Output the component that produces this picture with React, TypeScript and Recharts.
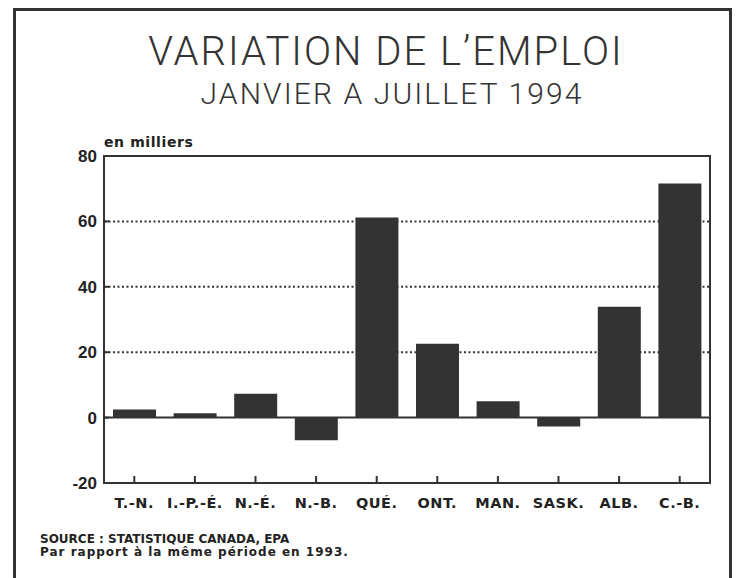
import React from "react";
import { BarChart, Bar, XAxis, YAxis, ReferenceLine, ReferenceArea } from "recharts";

const provinces = ["T.-N.", "I.-P.-É.", "N.-É.", "N.-B.", "QUÉ.", "ONT.", "MAN.", "SASK.", "ALB.", "C.-B."];
const variation = [2.5, 1.3, 7.3, -6.9, 61.2, 22.6, 5.0, -2.7, 33.9, 71.6];
const yTicks = [-20, 0, 20, 40, 60, 80];
const gridValues = [20, 40, 60];

const title = "VARIATION DE L’EMPLOI";
const subtitle = "JANVIER A JUILLET 1994";
const unitLabel = "en milliers";
const source = "SOURCE : STATISTIQUE CANADA, EPA";
const note = "Par rapport à la même période en 1993.";

const data = provinces.map((p, i) => ({ name: p, value: variation[i] }));

const INK = "#333333";
const BOLD = "DejaVu Sans, Liberation Sans, sans-serif";

const XTick = (props: any) => {
  const { x, y, payload } = props;
  const axisY = y - 14;
  return (
    <g>
      <line x1={x} x2={x} y1={axisY} y2={axisY - 7} stroke={INK} strokeWidth={2} />
      <text x={x} y={y} dy={11} textAnchor="middle" fill="#222" fontSize={14.5} fontWeight={700} fontFamily={BOLD} letterSpacing={0.5}>
        {payload.value}
      </text>
    </g>
  );
};

const YTick = (props: any) => {
  const { x, y, payload } = props;
  const axisX = x + 7;
  return (
    <g>
      {payload.value !== 80 && payload.value !== -20 && (
        <line x1={axisX} x2={axisX + 5} y1={y} y2={y} stroke={INK} strokeWidth={2} />
      )}
      <text x={x} y={y} dy={6} textAnchor="end" fill="#222" fontSize={17} fontWeight={700} fontFamily="Liberation Sans, Arial, sans-serif">
        {payload.value}
      </text>
    </g>
  );
};

export default function App() {
  return (
    <div style={{ position: "absolute", left: 0, top: 0, width: 737, height: 578, background: "#fff", overflow: "hidden" }}>
      <div style={{ position: "absolute", left: 13, top: 8, width: 719, height: 600, border: `3px solid ${INK}`, boxSizing: "border-box" }} />
      <div style={{ position: "absolute", left: 0, top: 0 }}>
        <BarChart width={737} height={578} data={data} margin={{ top: 156, right: 27, bottom: 65, left: 54 }} barSize={43}>
          <XAxis
            dataKey="name"
            axisLine={{ stroke: INK, strokeWidth: 2 }}
            tickLine={false}
            tickSize={0}
            tickMargin={14}
            height={30}
            interval={0}
            tick={<XTick />}
          />
          <YAxis
            domain={[-20, 80]}
            ticks={yTicks}
            width={50}
            axisLine={{ stroke: INK, strokeWidth: 2 }}
            tickLine={false}
            tickSize={0}
            tickMargin={7}
            tick={<YTick />}
          />
          {gridValues.map((v) => (
            <ReferenceLine key={v} y={v} stroke={INK} strokeWidth={2} strokeDasharray="2 2.5" />
          ))}
          <ReferenceArea y1={-20} y2={80} fill="none" stroke={INK} strokeWidth={2} fillOpacity={0} />
          <Bar dataKey="value" fill={INK} isAnimationActive={false} />
          <ReferenceLine y={0} stroke={INK} strokeWidth={2} />
        </BarChart>
      </div>
      <svg width={737} height={578} style={{ position: "absolute", left: 0, top: 0, pointerEvents: "none" }}>
        <text x={386} y={65} textAnchor="middle" fontSize={40} fontWeight={300} fill={INK} fontFamily="Roboto, sans-serif" letterSpacing={2}>{title}</text>
        <text x={392} y={104} textAnchor="middle" fontSize={30} fontWeight={300} fill={INK} fontFamily="Roboto, sans-serif" letterSpacing={2.1}>{subtitle}</text>
        <text x={104} y={147} fontSize={14} fontWeight={700} fill="#222" fontFamily={BOLD} letterSpacing={0.6}>{unitLabel}</text>
        <text x={40} y={543} fontSize={12} fontWeight={700} fill="#222" fontFamily={BOLD}>{source}</text>
        <text x={40} y={556} fontSize={12} fontWeight={700} fill="#222" fontFamily={BOLD} letterSpacing={1}>{note}</text>
      </svg>
    </div>
  );
}
